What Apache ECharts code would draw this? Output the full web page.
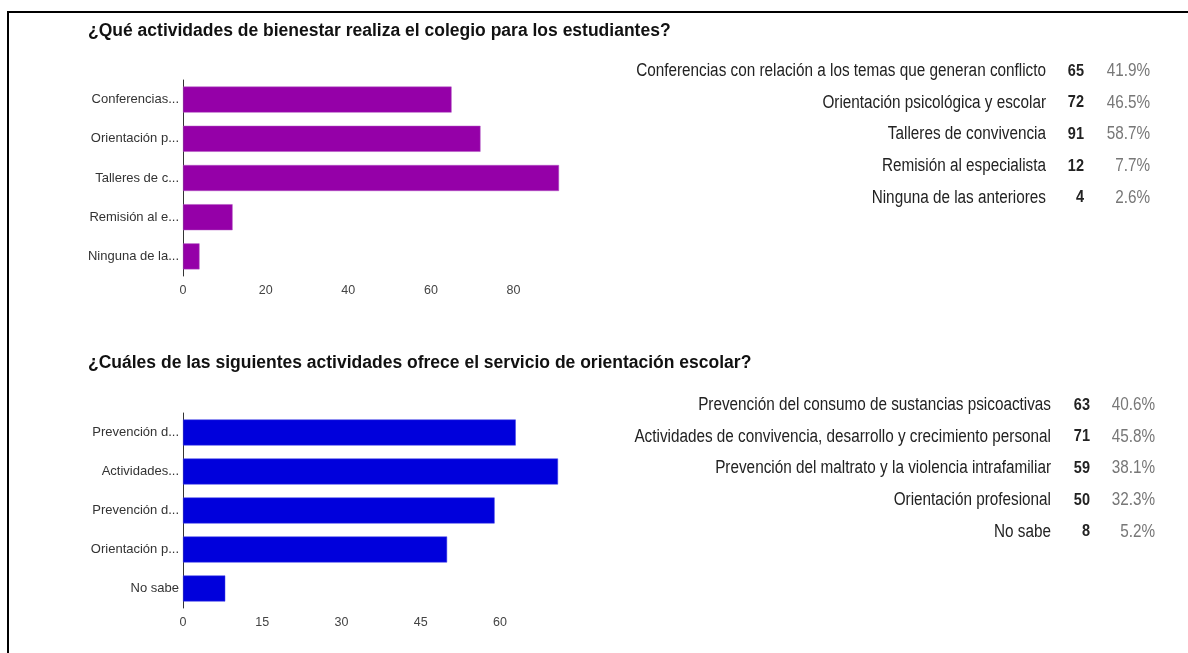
<!DOCTYPE html>
<html>
<head>
<meta charset="utf-8">
<script src="https://cdn.jsdelivr.net/npm/echarts@6/dist/echarts.min.js"></script>
<style>
html,body{margin:0;padding:0;background:#fff;}
#c{width:1188px;height:653px;}
</style>
</head>
<body>
<div id="c"></div>
<script>
// ---- Data ----
const title1 = "¿Qué actividades de bienestar realiza el colegio para los estudiantes?";
const categories1 = ["Conferencias con relación a los temas que generan conflicto", "Orientación psicológica y escolar", "Talleres de convivencia", "Remisión al especialista", "Ninguna de las anteriores"];
const tickLabels1 = ["Conferencias...", "Orientación p...", "Talleres de c...", "Remisión al e...", "Ninguna de la..."];
const values1 = [65, 72, 91, 12, 4];
const percents1 = ["41.9%", "46.5%", "58.7%", "7.7%", "2.6%"];

const title2 = "¿Cuáles de las siguientes actividades ofrece el servicio de orientación escolar?";
const categories2 = ["Prevención del consumo de sustancias psicoactivas", "Actividades de convivencia, desarrollo y crecimiento personal", "Prevención del maltrato y la violencia intrafamiliar", "Orientación profesional", "No sabe"];
const tickLabels2 = ["Prevención d...", "Actividades...", "Prevención d...", "Orientación p...", "No sabe"];
const values2 = [63, 71, 59, 50, 8];
const percents2 = ["40.6%", "45.8%", "38.1%", "32.3%", "5.2%"];

const FONT = "'Liberation Sans', Arial, sans-serif";

function table(cats, vals, pcts, y0, step, xLabel, xCount, xPct) {
  const els = [];
  const sy = 1.15;
  cats.forEach((c, i) => {
    const y = y0 + i * step;
    els.push({type:'text', x: xLabel, y: y, scaleY: sy, style:{text:c, textAlign:'right', textVerticalAlign:'middle', font:"15.3px " + FONT, fill:'#222'}});
    els.push({type:'text', x: xCount, y: y, scaleY: sy, style:{text:String(vals[i]), textAlign:'right', textVerticalAlign:'middle', font:"bold 14.5px " + FONT, fill:'#222'}});
    els.push({type:'text', x: xPct, y: y, scaleY: sy, style:{text:pcts[i], textAlign:'right', textVerticalAlign:'middle', font:"15.3px " + FONT, fill:'#777'}});
  });
  return els;
}

const chart = echarts.init(document.getElementById('c'), null, {renderer:'canvas'});

const axisLabelX = {color:'#444', fontSize:12.5, fontFamily:FONT, margin:8, showMaxLabel:false};
const axisLabelY = {color:'#333', fontSize:13, fontFamily:FONT, margin:4};

chart.setOption({
  animation:false,
  grid:[
    {left:183, top:80, width:376, height:196},
    {left:183, top:413, width:375, height:195}
  ],
  xAxis:[
    {type:'value', gridIndex:0, min:0, max:Math.max(...values1), interval:20, axisLine:{show:false}, axisTick:{show:false}, splitLine:{show:false}, axisLabel:axisLabelX},
    {type:'value', gridIndex:1, min:0, max:Math.max(...values2), interval:15, axisLine:{show:false}, axisTick:{show:false}, splitLine:{show:false}, axisLabel:axisLabelX}
  ],
  yAxis:[
    {type:'category', gridIndex:0, inverse:true, data:tickLabels1, axisLine:{show:true, lineStyle:{color:'#333', width:1}}, axisTick:{show:false}, axisLabel:axisLabelY},
    {type:'category', gridIndex:1, inverse:true, data:tickLabels2, axisLine:{show:true, lineStyle:{color:'#333', width:1}}, axisTick:{show:false}, axisLabel:axisLabelY}
  ],
  series:[
    {type:'bar', xAxisIndex:0, yAxisIndex:0, data:values1, barWidth:26, itemStyle:{color:'#9500a8', borderColor:'#b050c0', borderWidth:0.5}},
    {type:'bar', xAxisIndex:1, yAxisIndex:1, data:values2, barWidth:26, itemStyle:{color:'#0000dc', borderColor:'#4040e8', borderWidth:0.5}}
  ],
  graphic:[
    {type:'line', shape:{x1:7, y1:12, x2:1188, y2:12}, style:{stroke:'#000', lineWidth:2}},
    {type:'line', shape:{x1:8, y1:12, x2:8, y2:653}, style:{stroke:'#000', lineWidth:2}},
    {type:'text', x:88, y:31.5, style:{text:title1, textVerticalAlign:'middle', font:"bold 17.5px " + FONT, fill:'#111'}},
    {type:'text', x:88, y:363.5, style:{text:title2, textVerticalAlign:'middle', font:"bold 17.5px " + FONT, fill:'#111'}}
  ].concat(table(categories1, values1, percents1, 71, 31.7, 1046, 1084, 1150))
   .concat(table(categories2, values2, percents2, 405, 31.7, 1051, 1090, 1155))
});
</script>
</body>
</html>
